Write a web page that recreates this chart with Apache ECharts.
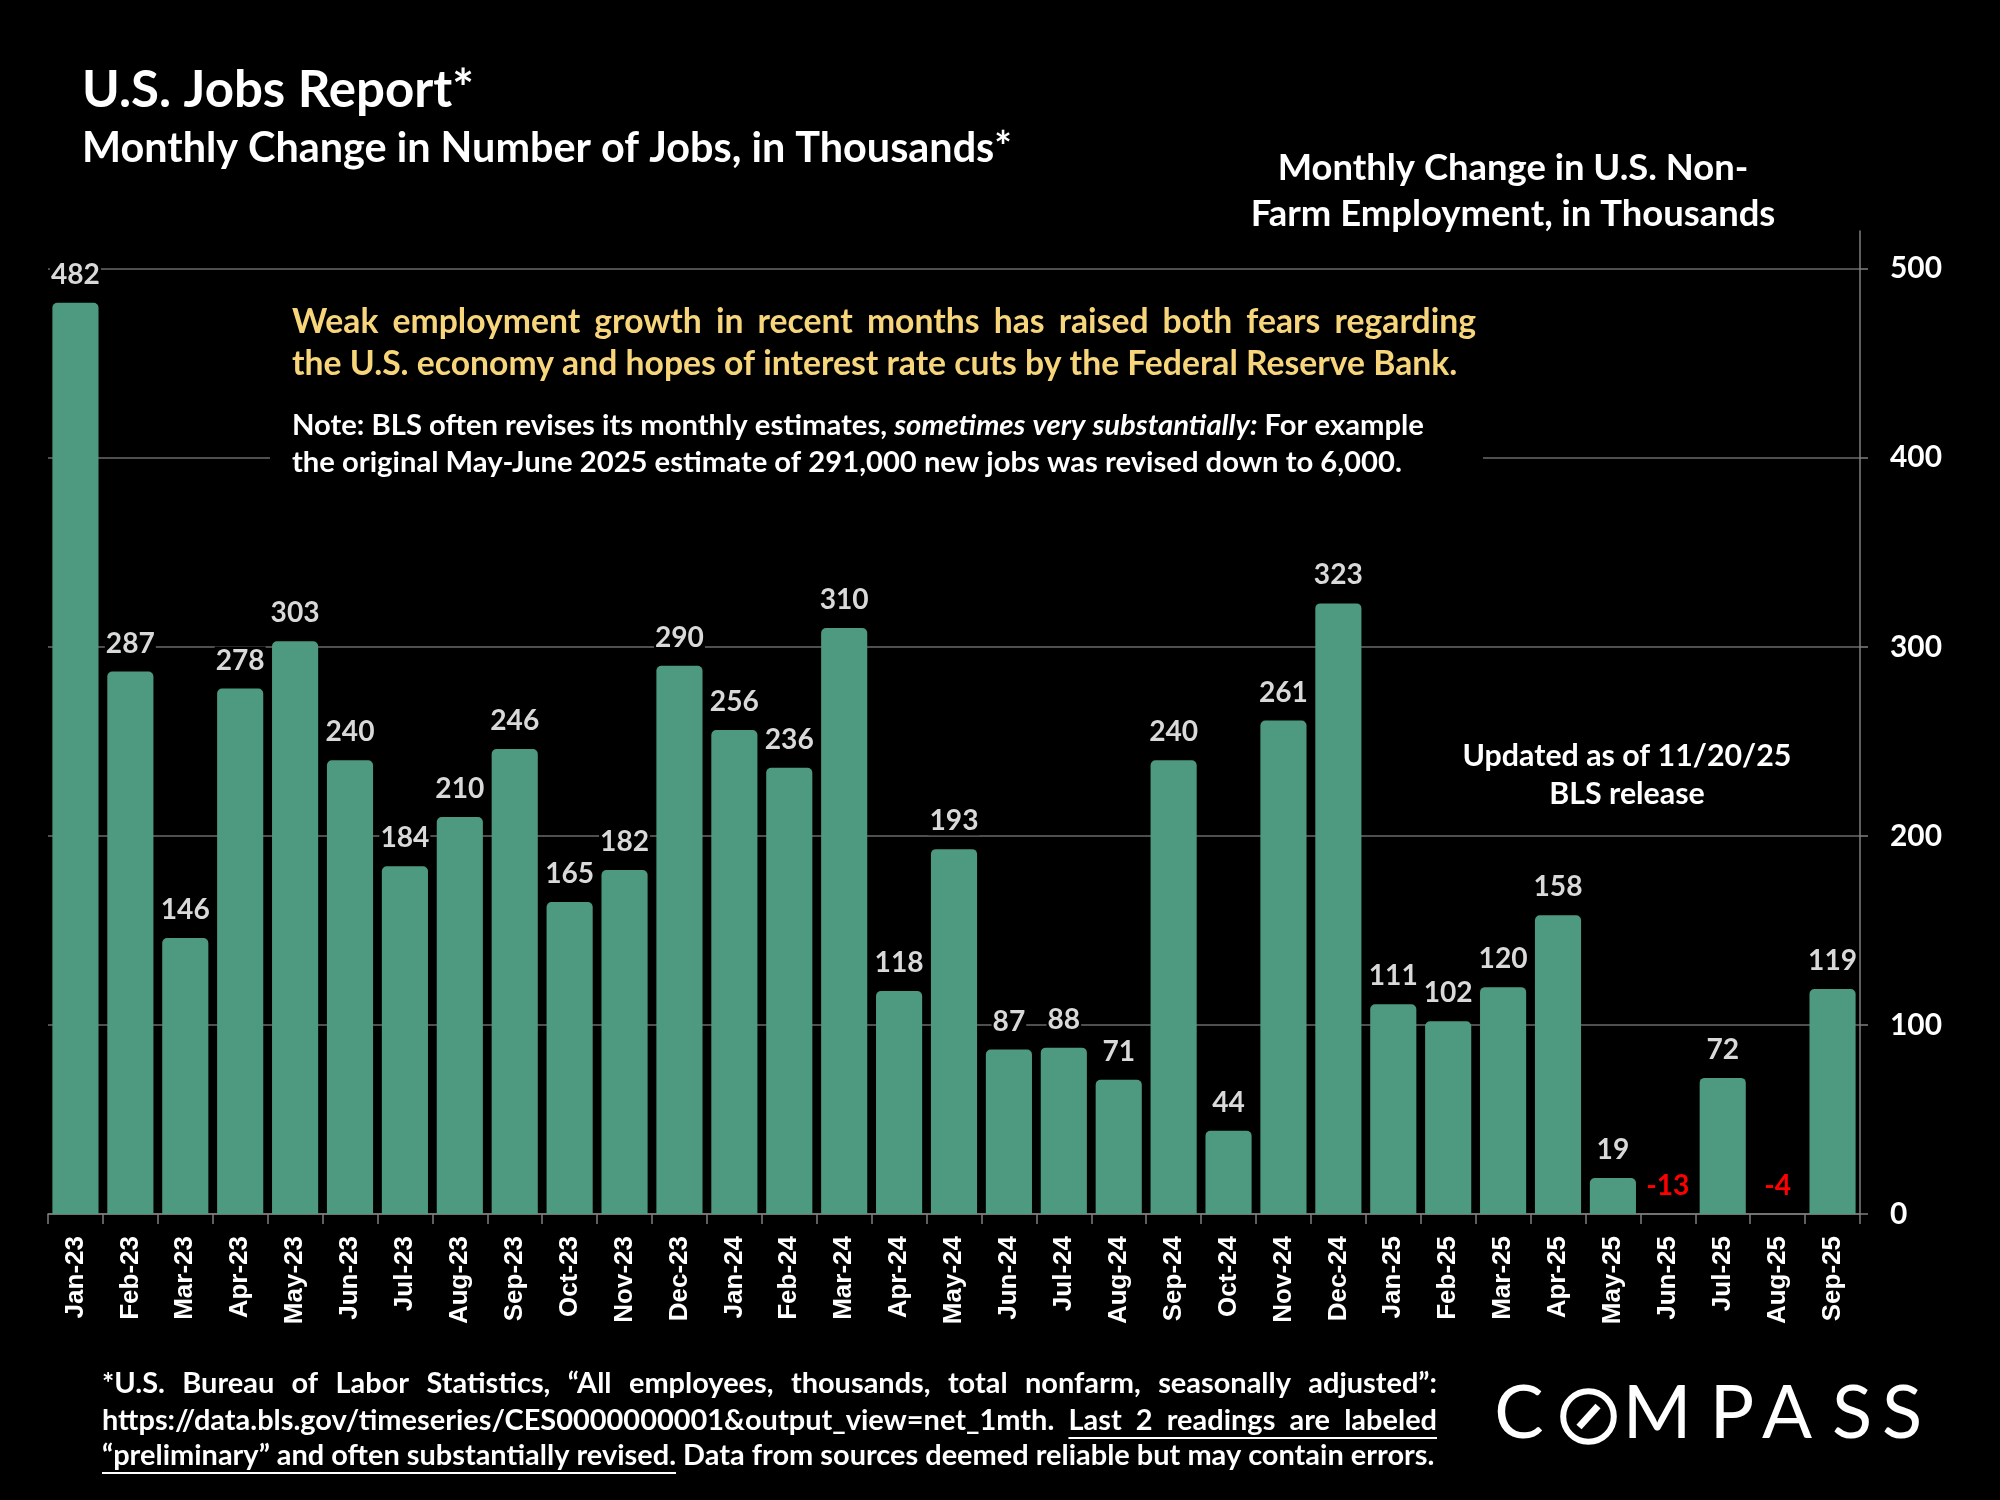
<!DOCTYPE html>
<html><head><meta charset="utf-8">
<script src="https://cdn.jsdelivr.net/npm/echarts@6/dist/echarts.min.js"></script>
<style>html,body{margin:0;padding:0;background:#000}#c{width:2000px;height:1500px}</style>
</head><body><div id="c"></div>
<script>
// ---- data ----
const categories = ['Jan-23','Feb-23','Mar-23','Apr-23','May-23','Jun-23','Jul-23','Aug-23','Sep-23','Oct-23','Nov-23','Dec-23',
  'Jan-24','Feb-24','Mar-24','Apr-24','May-24','Jun-24','Jul-24','Aug-24','Sep-24','Oct-24','Nov-24','Dec-24',
  'Jan-25','Feb-25','Mar-25','Apr-25','May-25','Jun-25','Jul-25','Aug-25','Sep-25'];
const jobChanges = [482,287,146,278,303,240,184,210,246,165,182,290,
  256,236,310,118,193,87,88,71,240,44,261,323,
  111,102,120,158,19,-13,72,-4,119];
const yTicks = [0,100,200,300,400,500];

// ---- text helpers ----
const FONT = 'Lato';
const cv = document.createElement('canvas').getContext('2d');
function fontStr(size, o) { o = o || {}; return (o.italic ? 'italic ' : 'normal ') + (o.weight || 'bold') + ' ' + size + 'px ' + (o.family || FONT); }
function tw(text, size, o) { cv.font = fontStr(size, o); return cv.measureText(text).width; }
function fit(text, width, o) { return 100 * width / tw(text, 100, o); }
const K = 0.387;
function T(text, x, base, size, o) {
  o = o || {};
  return { type: 'text', z: 10, x: x, y: base - K * size,
    style: { text: text, fill: o.color || '#fff', font: fontStr(size, o),
      align: o.align || 'left', verticalAlign: 'middle', textAlign: o.align || 'left', textVerticalAlign: 'middle' } };
}
function wordLine(segs, x0, base, size, o) {
  o = o || {};
  const items = [];
  segs.forEach(s => s.t.split(' ').filter(w => w.length).forEach(w => items.push({ t: w, italic: s.italic, ul: s.ul })));
  const widths = items.map(it => tw(it.t, size, { italic: it.italic }));
  const sum = widths.reduce((a, b) => a + b, 0);
  const sp = tw(' ', size, {});
  const gap = (o.x1 && items.length > 1) ? (o.x1 - x0 - sum) / (items.length - 1) : sp;
  const els = [];
  let x = x0, ulStart = null, ulEnd = null;
  items.forEach((it, i) => {
    els.push(T(it.t, x, base, size, { italic: it.italic, color: o.color }));
    if (it.ul) { if (ulStart === null) ulStart = x; ulEnd = x + widths[i]; }
    x += widths[i] + gap;
  });
  if (ulStart !== null) {
    els.push({ type: 'line', z: 10, shape: { x1: ulStart, y1: base + 6, x2: ulEnd, y2: base + 6 }, style: { stroke: o.color || '#fff', lineWidth: 2 } });
  }
  return els;
}

// ---- sizes fitted to reference widths ----
const titleFs = fit('U.S. Jobs Report*', 392);
const subFs = fit('Monthly Change in Number of Jobs, in Thousands*', 930);
const axTitleFs = fit('Farm Employment, in Thousands', 525);
const updFs = fit('Updated as of 11/20/25', 329);
const yelFs = fit('the U.S. economy and hopes of interest rate cuts by the Federal Reserve Bank.', 1166);
const noteFs = 100 * 1131 / (tw('Note: BLS often revises its monthly estimates, ', 100) + tw('sometimes very substantially:', 100, { italic: true }) + tw(' For example', 100));
const footFs = fit('“preliminary” and often substantially revised. Data from sources deemed reliable but may contain errors.', 1333);
const lblFs = fit('158', 49);
const yLblFs = fit('500', 52);

const YELLOW = '#F7D57A';
const graphics = [];
// black box behind annotation
graphics.push({ type: 'rect', z: 1, shape: { x: 270, y: 292, width: 1213, height: 196 }, style: { fill: '#000' } });
graphics.push(T('U.S. Jobs Report*', 82, 110, titleFs));
graphics.push(T('Monthly Change in Number of Jobs, in Thousands*', 82, 165, subFs));
graphics.push(T('Monthly Change in U.S. Non-', 1513, 182, axTitleFs, { align: 'center' }));
graphics.push(T('Farm Employment, in Thousands', 1513, 228, axTitleFs, { align: 'center' }));
graphics.push(T('Updated as of 11/20/25', 1627, 768, updFs, { align: 'center' }));
graphics.push(T('BLS release', 1627, 806, updFs, { align: 'center' }));
graphics.push(...wordLine([{ t: 'Weak employment growth in recent months has raised both fears regarding' }], 292, 335, yelFs, { x1: 1476, color: YELLOW }));
graphics.push(...wordLine([{ t: 'the U.S. economy and hopes of interest rate cuts by the Federal Reserve Bank.' }], 292, 377, yelFs, { color: YELLOW }));
graphics.push(...wordLine([{ t: 'Note: BLS often revises its monthly estimates,' }, { t: 'sometimes very substantially:', italic: true }, { t: 'For example' }], 292, 437, noteFs));
graphics.push(...wordLine([{ t: 'the original May-June 2025 estimate of 291,000 new jobs was revised down to 6,000.' }], 292, 474, noteFs));
graphics.push(...wordLine([{ t: '*U.S. Bureau of Labor Statistics, “All employees, thousands, total nonfarm, seasonally adjusted”:' }], 102, 1395, footFs, { x1: 1437 }));
graphics.push(...wordLine([{ t: 'https://data.bls.gov/timeseries/CES0000000001&output_view=net_1mth.' }, { t: 'Last 2 readings are labeled', ul: true }], 102, 1432, footFs, { x1: 1437 }));
graphics.push(...wordLine([{ t: '“preliminary” and often substantially revised.', ul: true }, { t: 'Data from sources deemed reliable but may contain errors.' }], 102, 1467, footFs));
// COMPASS logo (letters centred in their boxes)
const logoFs = 74;
[['C', 1519], ['M', 1657], ['P', 1732], ['A', 1787], ['S', 1852], ['S', 1902]].forEach(p => {
  graphics.push(T(p[0], p[1], 1443, logoFs, { weight: 'normal', align: 'center' }));
});
graphics.push({ type: 'circle', z: 10, shape: { cx: 1588.5, cy: 1416.5, r: 25.3 }, style: { fill: 'none', stroke: '#fff', lineWidth: 6 } });
graphics.push({ type: 'line', z: 10, shape: { x1: 1579, y1: 1427, x2: 1598, y2: 1406 }, style: { stroke: '#fff', lineWidth: 7 } });

const seriesData = jobChanges.map(v => ({
  value: v,
  label: v < 0 ? { color: '#FF0000' } : undefined
}));

const chart = echarts.init(document.getElementById('c'));
chart.setOption({
  backgroundColor: '#000',
  animation: false,
  grid: { left: 48, right: 140, top: 231, bottom: 286 },
  xAxis: {
    type: 'category', data: categories,
    axisLine: { lineStyle: { color: '#7f7f7f', width: 1.5 } },
    axisTick: { show: true, length: 10, lineStyle: { color: '#7f7f7f', width: 1.5 } },
    axisLabel: { rotate: 90, interval: 0, color: '#fff', fontFamily: 'Liberation Sans', fontWeight: 'bold', fontSize: 26, margin: 22 }
  },
  yAxis: {
    type: 'value', position: 'right', min: 0, max: 520, interval: 100,
    axisLine: { show: true, lineStyle: { color: '#7f7f7f', width: 1.5 } },
    axisTick: { show: true, length: 8, lineStyle: { color: '#7f7f7f', width: 1.5 }, customValues: yTicks },
    axisLabel: { customValues: yTicks, color: '#fff', fontFamily: FONT, fontWeight: 'bold', fontSize: yLblFs, margin: 30 },
    splitLine: { show: true, lineStyle: { color: '#6a6a6a', width: 1.5 } }
  },
  series: [{
    type: 'bar', data: seriesData, barCategoryGap: '16%',
    itemStyle: { color: '#4E9A80', borderRadius: [5, 5, 0, 0] },
    label: { show: true, position: 'top', distance: 14, color: '#D9D9D9', fontFamily: FONT, fontWeight: 'bold', fontSize: lblFs, backgroundColor: '#000', padding: [0, 1] }
  }],
  graphic: graphics
});
</script></body></html>
